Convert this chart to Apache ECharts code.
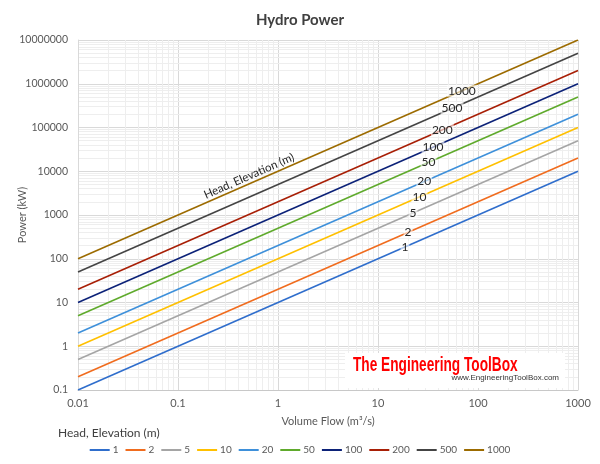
<!DOCTYPE html>
<html>
<head>
<meta charset="utf-8">
<script src="https://cdn.jsdelivr.net/npm/echarts@6/dist/echarts.min.js"></script>
<style>html,body{margin:0;padding:0;background:#fff;}#c{width:600px;height:464px;}</style>
</head>
<body>
<div id="c"></div>
<script>
// Head, Elevation (m)
var heads = ['1', '2', '5', '10', '20', '50', '100', '200', '500', '1000'];
// Volume flow range (m3/s)
var flowRange = [0.01, 1000];
// Power (kW) at flow 0.01 and at flow 1000, per head
var powerAtMinFlow = [0.1, 0.2, 0.5, 1, 2, 5, 10, 20, 50, 100];
var powerAtMaxFlow = [10000, 20000, 50000, 100000, 200000, 500000, 1000000, 2000000, 5000000, 10000000];
// in-line label anchors (flow, power) per head
var labelFlow = [18.6, 20, 22.4, 26, 29, 32, 35.5, 44, 55, 69];
var labelPower = [186, 400, 1120, 2600, 5800, 16000, 35500, 88000, 275000, 690000];
// minor grid values
var minorX = [0.02,0.03,0.04,0.05,0.06,0.07,0.08,0.09,0.2,0.3,0.4,0.5,0.6,0.7,0.8,0.9,2,3,4,5,6,7,8,9,20,30,40,50,60,70,80,90,200,300,400,500,600,700,800,900];
var minorY = [0.2,0.3,0.4,0.5,0.6,0.7,0.8,0.9,2,3,4,5,6,7,8,9,20,30,40,50,60,70,80,90,200,300,400,500,600,700,800,900,2000,3000,4000,5000,6000,7000,8000,9000,20000,30000,40000,50000,60000,70000,80000,90000,200000,300000,400000,500000,600000,700000,800000,900000,2000000,3000000,4000000,5000000,6000000,7000000,8000000,9000000];

var colors = ['#2F6ECC', '#F06C1E', '#A5A5A5', '#FFC000', '#3E90DA', '#5FAA2C', '#0C2278', '#A81F06', '#444444', '#9C6B00'];
var FONT = 'Lato, Open Sans, sans-serif';

function fmt(v) {
  if (v >= 1) return String(Math.round(v));
  return String(Number(v.toPrecision(3)));
}

var series = [];
var mlData = [];
minorX.forEach(function (v) { mlData.push({ xAxis: v }); });
minorY.forEach(function (v) { mlData.push({ yAxis: v }); });
series.push({
  name: '_grid', type: 'line', data: [], symbol: 'none', silent: true, z: 0,
  lineStyle: { opacity: 0 },
  markLine: {
    silent: true, symbol: ['none', 'none'], animation: false, z: 0, zlevel: 0,
    label: { show: false },
    lineStyle: { type: 'solid', color: '#eeeeee', width: 1 },
    data: mlData
  }
});
heads.forEach(function (h, i) {
  series.push({
    name: h, type: 'line', symbol: 'none', z: 4,
    color: colors[i],
    lineStyle: { width: 1.6, color: colors[i] },
    data: [[flowRange[0], powerAtMinFlow[i]], [flowRange[1], powerAtMaxFlow[i]]],
    markPoint: {
      symbol: 'circle', symbolSize: 0, silent: true, animation: false, z: 6,
      label: {
        show: true, position: 'inside', formatter: h,
        color: '#262626', fontSize: 12, fontFamily: FONT,
        backgroundColor: 'rgba(255,255,255,0.6)', padding: [0, 1]
      },
      data: [{ coord: [labelFlow[i], labelPower[i]] }]
    }
  });
});

var chart = echarts.init(document.getElementById('c'), null, { renderer: 'canvas' });
chart.setOption({
  animation: false,
  backgroundColor: '#fff',
  title: {
    text: 'Hydro Power', left: 'center', top: 8,
    textStyle: { fontSize: 15, fontWeight: 'bold', color: '#404040', fontFamily: FONT }
  },
  grid: { left: 78, right: 22, top: 40, bottom: 74, containLabel: false, outerBoundsMode: 'none' },
  xAxis: {
    type: 'log', logBase: 10, min: 0.01, max: 1000,
    name: 'Volume Flow (m³/s)', nameLocation: 'middle', nameGap: 26, nameMoveOverlap: false,
    nameTextStyle: { fontSize: 11, color: '#595959', fontFamily: FONT },
    axisLine: { show: true, lineStyle: { color: '#c8c8c8' } },
    axisTick: { show: false },
    axisLabel: { fontSize: 11, color: '#595959', margin: 8, formatter: fmt, fontFamily: FONT },
    splitLine: { show: true, lineStyle: { color: '#d9d9d9' } }
  },
  yAxis: {
    type: 'log', logBase: 10, min: 0.1, max: 10000000,
    name: 'Power (kW)', nameLocation: 'middle', nameGap: 50, nameMoveOverlap: false,
    nameTextStyle: { fontSize: 11, color: '#595959', fontFamily: FONT },
    axisLine: { show: true, lineStyle: { color: '#d9d9d9' } },
    axisTick: { show: false },
    axisLabel: { fontSize: 10.5, color: '#595959', margin: 10, formatter: fmt, fontFamily: FONT },
    splitLine: { show: true, lineStyle: { color: '#d9d9d9' } }
  },
  legend: {
    data: heads, bottom: 4, left: 'center',
    icon: 'rect', itemWidth: 20, itemHeight: 2, itemGap: 7,
    textStyle: { fontSize: 10, color: '#595959', padding: [0, 0, 0, -2], fontFamily: FONT }
  },
  graphic: [
    {
      type: 'text', x: 249, y: 176, rotation: 23.6 * Math.PI / 180, z: 10,
      style: { text: 'Head, Elevation (m)', fontSize: 11.5, fill: '#262626', textAlign: 'center', textVerticalAlign: 'middle', fontFamily: FONT }
    },
    {
      type: 'text', x: 58, y: 433, z: 10,
      style: { text: 'Head, Elevation (m)', fontSize: 12, fill: '#404040', textAlign: 'left', textVerticalAlign: 'middle', fontFamily: FONT }
    },
    {
      type: 'rect', z: 20, shape: { x: 345, y: 353, width: 220, height: 35 },
      style: { fill: '#ffffff' }
    },
    {
      type: 'text', x: 353, y: 366, z: 21, scaleX: 0.76, scaleY: 1.1,
      style: { text: 'The Engineering ToolBox', fontSize: 18, fontWeight: 'bold', fill: '#ff0000', textAlign: 'left', textVerticalAlign: 'middle', fontFamily: 'Liberation Sans, Arial, sans-serif' }
    },
    {
      type: 'text', x: 559, y: 378, z: 21,
      style: { text: 'www.EngineeringToolBox.com', fontSize: 8, fill: '#333333', textAlign: 'right', textVerticalAlign: 'middle', fontFamily: 'Liberation Sans, Arial, sans-serif' }
    }
  ],
  series: series
});
</script>
</body>
</html>
